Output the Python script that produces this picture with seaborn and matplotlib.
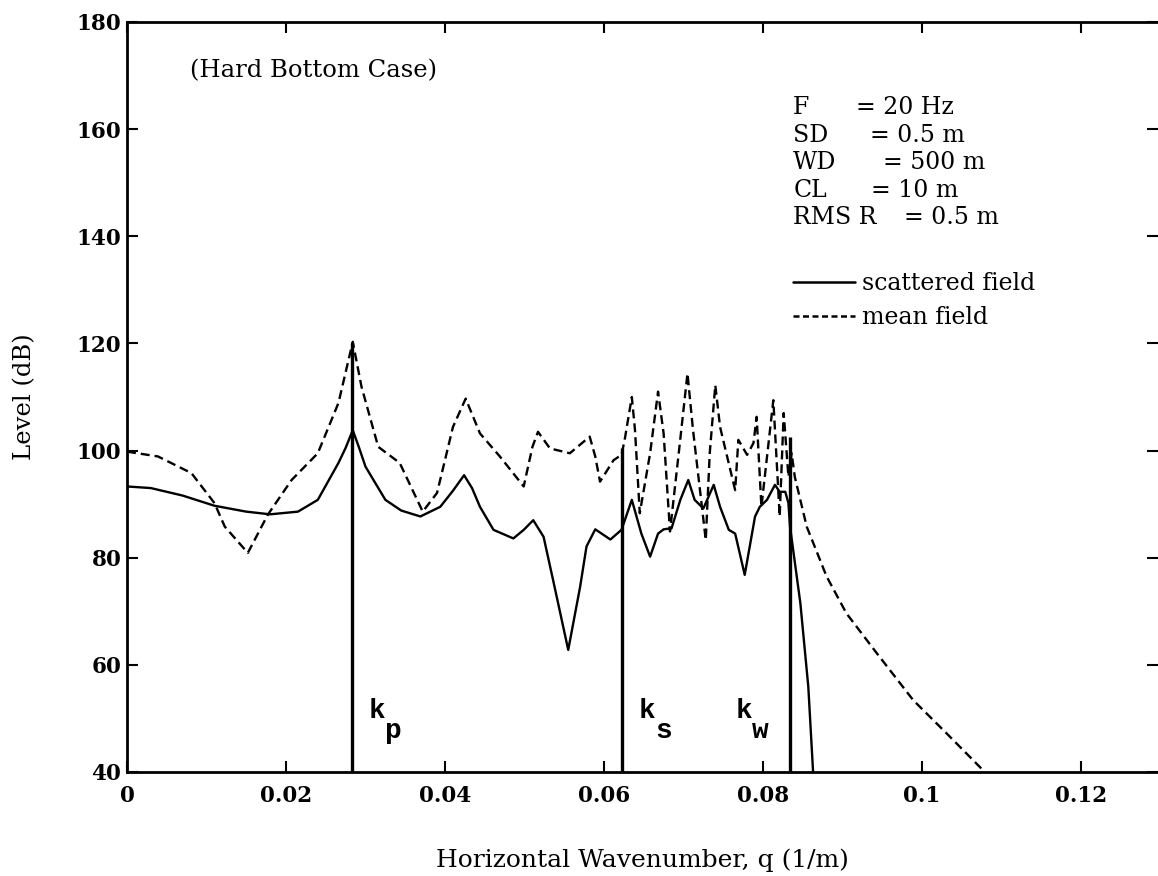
import matplotlib
matplotlib.use("Agg")
import matplotlib.pyplot as plt
import seaborn as sns
import numpy as np
from matplotlib.lines import Line2D
from matplotlib.font_manager import FontProperties

# ---------------- data ----------------
q_scat = [0.000, 0.003, 0.007, 0.011, 0.015, 0.018, 0.0215, 0.024, 0.0266, 0.0275,
          0.0284, 0.0292, 0.030, 0.0325, 0.0345, 0.0369, 0.0394, 0.041, 0.0424, 0.0434,
          0.0444, 0.0461, 0.0486, 0.0499, 0.0511, 0.0524, 0.0536, 0.0555, 0.057, 0.0578,
          0.0589, 0.0608, 0.0622, 0.0635, 0.0647, 0.0658, 0.0668, 0.0675, 0.0685, 0.0696,
          0.0706, 0.0714, 0.0725, 0.0738, 0.0746, 0.0757, 0.0765, 0.0777, 0.079, 0.0796,
          0.0805, 0.0815, 0.0821, 0.0828, 0.0832, 0.0834, 0.0847, 0.0857, 0.0863]
L_scat = [93.3, 93.0, 91.6, 89.7, 88.6, 88.1, 88.6, 90.8, 97.7, 100.5,
          103.8, 100.5, 97.0, 90.8, 88.8, 87.7, 89.5, 92.5, 95.4, 93.0,
          89.5, 85.2, 83.6, 85.2, 87.0, 83.9, 75.8, 62.8, 74.6, 82.1,
          85.3, 83.4, 85.2, 90.8, 84.5, 80.2, 84.5, 85.3, 85.5, 90.8,
          94.5, 90.8, 89.2, 93.6, 89.5, 85.2, 84.5, 76.8, 87.7, 89.5,
          90.8, 93.6, 92.3, 92.3, 90.2, 85.8, 71.5, 55.9, 40.0]

q_mean = [0.000, 0.0039, 0.0081, 0.011, 0.0123, 0.0152, 0.0177, 0.0207, 0.024, 0.0266,
          0.0284, 0.0295, 0.0316, 0.0343, 0.0372, 0.039, 0.041, 0.0426, 0.0444, 0.0469,
          0.0499, 0.051, 0.0517, 0.0532, 0.0557, 0.0582, 0.0589, 0.0595, 0.0612, 0.0622,
          0.0626, 0.0635, 0.0639, 0.0645, 0.0658, 0.0668, 0.0675, 0.0683, 0.0694, 0.0705,
          0.0712, 0.0728, 0.0733, 0.074, 0.0746, 0.0765, 0.0769, 0.078, 0.0788, 0.0792,
          0.0798, 0.0813, 0.0821, 0.0826, 0.0832, 0.0836, 0.084, 0.0855, 0.088, 0.0905,
          0.0943, 0.0989, 0.1031, 0.1079]
L_mean = [99.8, 98.9, 95.8, 90.2, 85.8, 80.9, 88.0, 94.5, 99.5, 108.9,
          120.3, 111.9, 100.7, 97.7, 88.6, 92.1, 104.4, 109.7, 103.2, 98.9,
          93.3, 100.7, 103.5, 100.4, 99.5, 102.6, 98.9, 94.2, 98.2, 99.2,
          102.0, 110.0, 103.8, 88.3, 99.5, 111.0, 103.2, 84.9, 99.5, 114.4,
          103.8, 83.3, 99.5, 112.2, 104.4, 92.6, 102.0, 99.2, 101.4, 106.3,
          89.5, 109.4, 87.7, 107.0, 95.1, 99.5, 95.1, 85.8, 76.5, 69.6,
          62.2, 53.4, 47.2, 40.0]

k_names = ["p", "s", "w"]
k_pos = [0.0283, 0.0623, 0.0834]
k_top = [120.0, 100.4, 102.6]

x_ticks = [0, 0.02, 0.04, 0.06, 0.08, 0.1, 0.12]
x_tick_labels = ["0", "0.02", "0.04", "0.06", "0.08", "0.1", "0.12"]
y_ticks = [40, 60, 80, 100, 120, 140, 160, 180]

param_names = ["F", "SD", "WD", "CL", "RMS R"]
param_values = ["= 20 Hz", "= 0.5 m", "= 500 m", "= 10 m", "= 0.5 m"]

# ---------------- style ----------------
sns.set_style("ticks")
plt.rcParams["font.family"] = ["DejaVu Serif", "Liberation Serif"]
plt.rcParams["text.color"] = "black"
plt.rcParams["axes.labelcolor"] = "black"
plt.rcParams["xtick.color"] = "black"
plt.rcParams["ytick.color"] = "black"

fig = plt.figure(figsize=(11.58, 8.76), dpi=100)
W, H = 1158, 876
ax = fig.add_axes([127 / W, (H - 772) / H, (1158 - 127) / W, (772 - 22) / H])

sns.lineplot(x=q_scat, y=L_scat, ax=ax, color="black", linewidth=1.7,
             estimator=None, sort=False)
sns.lineplot(x=q_mean, y=L_mean, ax=ax, color="black", linewidth=1.7,
             estimator=None, sort=False, linestyle=(0, (3.8, 2.1)))
ax.vlines(k_pos, 40, k_top, colors="black", linewidth=2.4)

ax.set_xlim(0, (1158 - 127) / 7950)
ax.set_ylim(40, 180)
ax.set_xticks(x_ticks)
ax.set_xticklabels(x_tick_labels)
ax.set_yticks(y_ticks)

tick_fp = FontProperties(family="DejaVu Serif", weight="bold", size=15.5)
for lab in ax.get_xticklabels() + ax.get_yticklabels():
    lab.set_fontproperties(tick_fp)
    lab.set_color("black")

ax.tick_params(direction="in", length=8, width=1.5, top=True, right=True,
               colors="black")
ax.tick_params(axis="x", pad=9)
ax.tick_params(axis="y", pad=4)
for side in ["left", "bottom", "top"]:
    ax.spines[side].set_linewidth(2)
    ax.spines[side].set_color("black")
ax.spines["right"].set_visible(False)

ax.set_xlabel("Horizontal Wavenumber, q (1/m)", fontsize=18, labelpad=30)
ax.set_ylabel("Level (dB)", fontsize=17.5, labelpad=29)

ax.text(0.0079, 171.0, "(Hard Bottom Case)", fontsize=17.5, va="center", ha="left")

param_y = [164.0, 158.9, 153.7, 148.6, 143.6]
value_x = [0.0917, 0.0935, 0.0951, 0.0936, 0.0977]
for name, val, yy, vx in zip(param_names, param_values, param_y, value_x):
    ax.text(0.0838, yy, name, fontsize=17, va="center", ha="left")
    ax.text(vx, yy, val, fontsize=17, va="center", ha="left")

handles = [Line2D([], [], color="black", linewidth=1.8),
           Line2D([], [], color="black", linewidth=1.8, linestyle=(0, (2.4, 1.4)))]
leg = ax.legend(handles, ["scattered field", "mean field"], loc="upper left",
                bbox_to_anchor=(0.0838, 133.3), bbox_transform=ax.transData,
                frameon=False, fontsize=17, handlelength=2.6, handletextpad=0.3,
                labelspacing=0.45, borderpad=0, borderaxespad=0)
for t in leg.get_texts():
    t.set_color("black")

mono = dict(family="Liberation Mono", weight="bold")
k_label_x = [0.0314, 0.0654, 0.0776]
for name, kx in zip(k_names, k_label_x):
    ax.text(kx, 51.4, "k", fontsize=20, ha="center", va="center", **mono)
    ax.text(kx + 0.0021, 47.6, name, fontsize=20, ha="center", va="center", **mono)

fig.savefig("out.png", dpi=100)
